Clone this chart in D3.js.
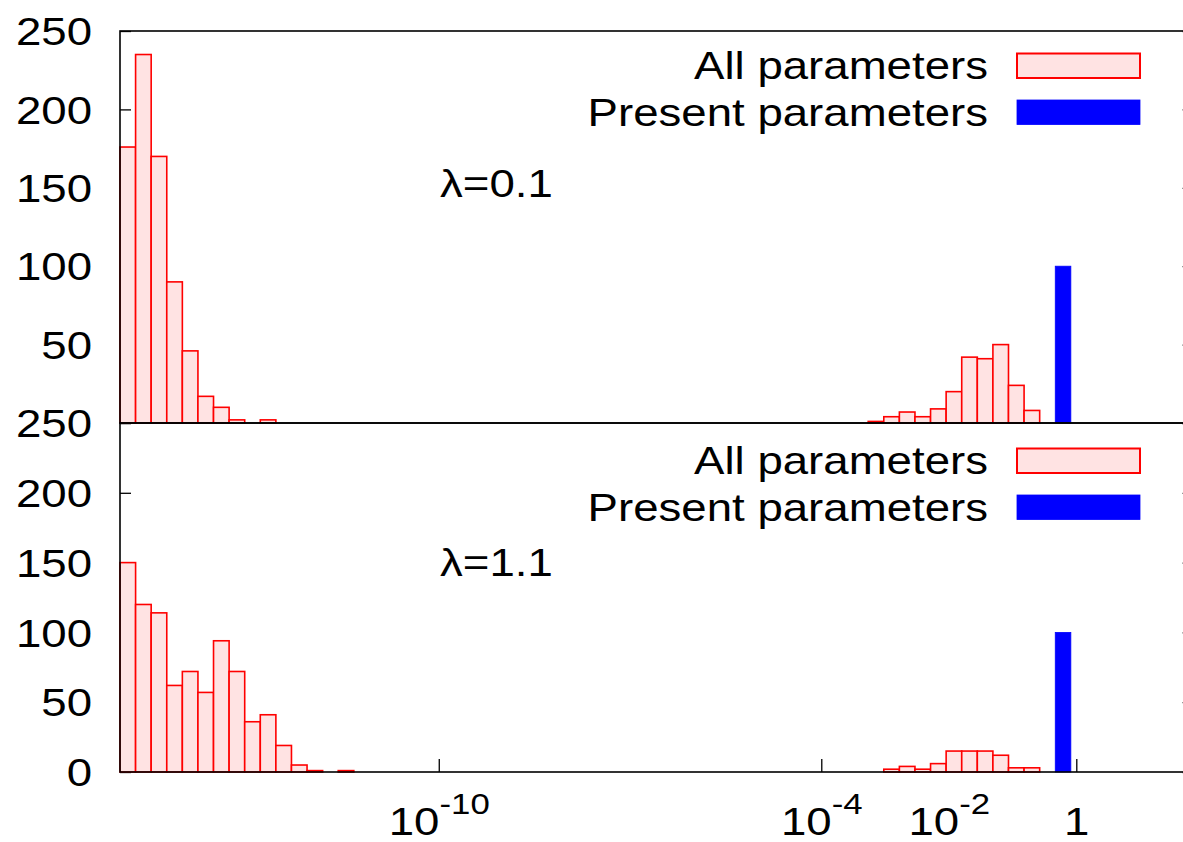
<!DOCTYPE html>
<html><head><meta charset="utf-8">
<script src="https://cdn.jsdelivr.net/npm/d3@7"></script>
<style>
body{margin:0;background:#fff}
svg{display:block}
text{font-family:"Liberation Sans",Arial,Helvetica,sans-serif;fill:#000}
</style>
</head><body>
<svg id="chart" width="1183" height="842"></svg>
<script>
// ---------------- data ----------------
// histogram bins are equal-width in log10(value)
const binStartExp = -15.0;      // log10 of the lower edge of bin 0
const binWidthExp = 0.2445;     // bin width in decades
const yTicks = [0, 50, 100, 150, 200, 250];
const xTicks = [1e-10, 1e-4, 1e-2, 1];
const xTickBase = ["10", "10", "10", "1"];
const xTickExp = ["-10", "-4", "-2", ""];
const lambdaLabels = ["λ=0.1", "λ=1.1"];
const legendLabels = ["All parameters", "Present parameters"];

// panel λ=0.1
const allLowFirstBin_01 = 0;
const allLow_01 = [176, 235, 170, 90, 46, 17, 10, 2, 0, 2];
const allHighFirstBin_01 = 48;
const allHigh_01 = [1, 4, 7, 4, 9, 20, 42, 41, 50, 24, 8];
const presentFirstBin_01 = 60;
const present_01 = [100];

// panel λ=1.1
const allLowFirstBin_11 = 0;
const allLow_11 = [150, 120, 114, 62, 72, 57, 94, 72, 36, 41, 19, 5, 1, 0, 1];
const allHighFirstBin_11 = 49;
const allHigh_11 = [2, 4, 2, 6, 15, 15, 15, 12, 3, 3];
const presentFirstBin_11 = 60;
const present_11 = [100];

// ---------------- layout ----------------
const SX = 1.2;            // horizontal stretch of the text glyphs
const FS = 38;             // font size
const left = 120, right = 1193.6;
const svg = d3.select("#chart");

const x = d3.scaleLog().domain([1e-15, Math.pow(10, 1.84)]).range([left, right]);

const panels = [
  { top: 31, bottom: 423, label: lambdaLabels[0], labelY: 197, legendTop: 53.5, showZero: false,
    all: [[allLowFirstBin_01, allLow_01], [allHighFirstBin_01, allHigh_01]],
    present: [[presentFirstBin_01, present_01]], xaxis: false },
  { top: 423, bottom: 772, label: lambdaLabels[1], labelY: 576, legendTop: 448.5, showZero: true,
    all: [[allLowFirstBin_11, allLow_11], [allHighFirstBin_11, allHigh_11]],
    present: [[presentFirstBin_11, present_11]], xaxis: true }
];

function toBins(first, counts) {
  return counts.map((c, i) => ({ lo: binStartExp + (first + i) * binWidthExp, c }))
               .filter(d => d.c > 0);
}

const tickLayer = svg.append("g");
const barLayer = svg.append("g");
const frameLayer = svg.append("g");
const textLayer = svg.append("g");

panels.forEach(p => {
  const y = d3.scaleLinear().domain([0, 250]).range([p.bottom, p.top]);

  // left y axis
  const ya = tickLayer.append("g").attr("transform", `translate(${left},0)`)
    .call(d3.axisLeft(y).tickValues(yTicks).tickSizeInner(-11).tickSizeOuter(0)
      .tickPadding(0).tickFormat(d => (d === 0 && !p.showZero) ? "" : d3.format("d")(d)));
  ya.select(".domain").remove();
  ya.selectAll(".tick line").attr("stroke", "#000").attr("stroke-width", 1.3);
  ya.selectAll(".tick text")
    .attr("x", -28 / SX).attr("dy", "0.36em")
    .attr("transform", `scale(${SX},1)`)
    .style("font-size", FS + "px")
    .style("font-family", '"Liberation Sans",Arial,sans-serif');

  // right mirror y ticks
  const yr = tickLayer.append("g").attr("transform", `translate(${right},0)`)
    .call(d3.axisRight(y).tickValues(yTicks).tickSizeInner(-11).tickSizeOuter(0).tickFormat(""));
  yr.select(".domain").remove();
  yr.selectAll(".tick line").attr("stroke", "#000").attr("stroke-width", 1.3);

  if (p.xaxis) {
    const xa = tickLayer.append("g").attr("transform", `translate(0,${p.bottom})`)
      .call(d3.axisBottom(x).tickValues(xTicks).tickSizeInner(-13).tickSizeOuter(0).tickFormat(""));
    xa.select(".domain").remove();
    xa.selectAll(".tick line").attr("stroke", "#000").attr("stroke-width", 1.3);
    xa.selectAll(".tick").each(function (d, i) {
      const t = d3.select(this).append("text")
        .attr("transform", `scale(${SX},1)`)
        .attr("x", 0).attr("y", 63)
        .attr("text-anchor", "middle")
        .style("font-size", FS + "px")
        .style("font-family", '"Liberation Sans",Arial,sans-serif')
        .attr("fill", "#000");
      t.append("tspan").text(xTickBase[i]);
      if (xTickExp[i]) t.append("tspan").attr("dy", -21).style("font-size", "29px").text(xTickExp[i]);
    });
  }

  // "All parameters" bars
  p.all.forEach(([first, counts]) => {
    barLayer.selectAll(null).data(toBins(first, counts)).enter().append("rect")
      .attr("x", d => x(Math.pow(10, d.lo)))
      .attr("width", d => x(Math.pow(10, d.lo + binWidthExp)) - x(Math.pow(10, d.lo)))
      .attr("y", d => y(d.c))
      .attr("height", d => y(0) - y(d.c))
      .attr("fill", "#ffe3e3").attr("stroke", "#ff0000").attr("stroke-width", 1.6);
  });
  // "Present parameters" bars
  p.present.forEach(([first, counts]) => {
    barLayer.selectAll(null).data(toBins(first, counts)).enter().append("rect")
      .attr("x", d => x(Math.pow(10, d.lo)))
      .attr("width", d => x(Math.pow(10, d.lo + binWidthExp)) - x(Math.pow(10, d.lo)))
      .attr("y", d => y(d.c))
      .attr("height", d => y(0) - y(d.c))
      .attr("fill", "#0000ff").attr("stroke", "#0000ff").attr("stroke-width", 0.8);
  });

  // frame
  frameLayer.append("rect")
    .attr("x", left).attr("y", p.top)
    .attr("width", right - left).attr("height", p.bottom - p.top)
    .attr("fill", "none").attr("stroke", "#000").attr("stroke-width", 1.6);

  // λ label
  textLayer.append("text")
    .attr("transform", `translate(440,${p.labelY}) scale(${SX},1)`)
    .style("font-size", FS + "px")
    .text(p.label);

  // legend
  const boxX = 1017, boxW = 123, boxH = 24.5, rowGap = 46.5;
  legendLabels.forEach((lab, i) => {
    const by = p.legendTop + i * rowGap;
    textLayer.append("text")
      .attr("transform", `translate(988,${by + boxH / 2 + 13.6}) scale(${SX},1)`)
      .attr("text-anchor", "end")
      .style("font-size", FS + "px")
      .text(lab);
    textLayer.append("rect")
      .attr("x", boxX).attr("y", by).attr("width", boxW).attr("height", boxH)
      .attr("fill", i === 0 ? "#ffe3e3" : "#0000ff")
      .attr("stroke", i === 0 ? "#ff0000" : "#0000ff")
      .attr("stroke-width", i === 0 ? 2 : 0.8);
  });
});
</script>
</body></html>
